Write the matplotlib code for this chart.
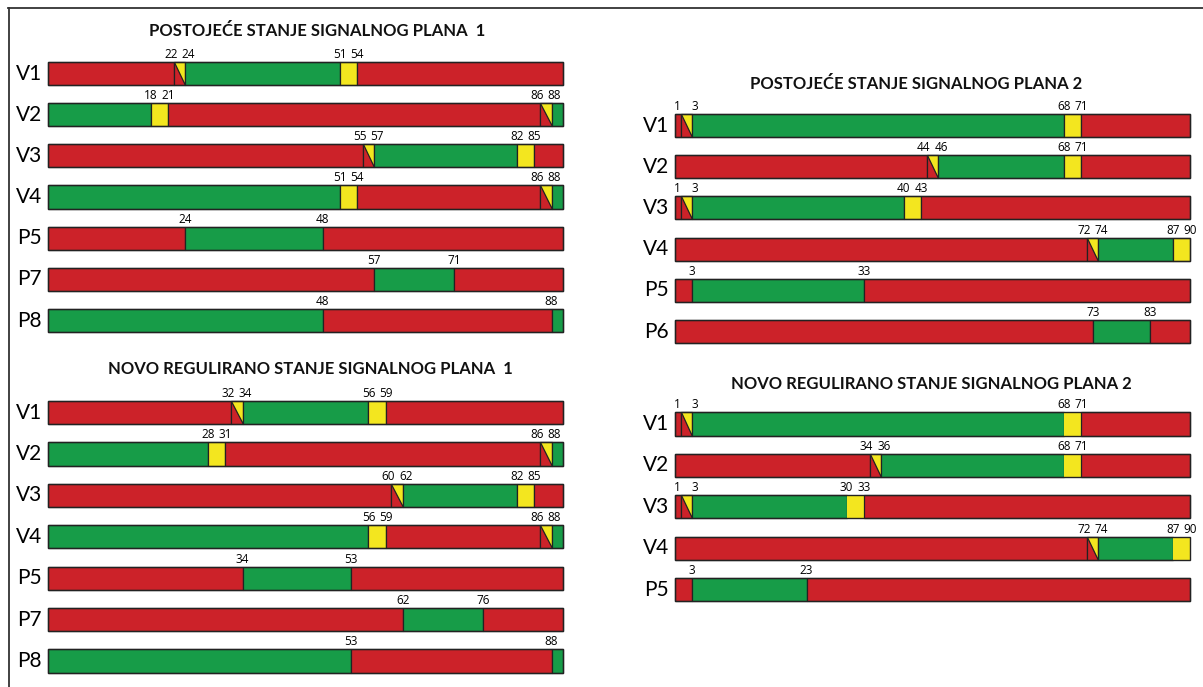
import matplotlib.pyplot as plt
from matplotlib.patches import Polygon
from matplotlib.lines import Line2D

W, H = 1203, 687
CYCLE = 90
RED, GREEN, YELLOW = '#cc2229', '#179c48', '#f3e61f'
COLORS = {'R': RED, 'G': GREEN, 'Y': YELLOW}

# Postojece stanje signalnog plana 1
old1_names = ['V1', 'V2', 'V3', 'V4', 'P5', 'P7', 'P8']
old1_times = [[0, 22, 24, 51, 54], [0, 18, 21, 86, 88], [0, 55, 57, 82, 85],
              [0, 51, 54, 86, 88], [0, 24, 48], [0, 57, 71], [0, 48, 88]]
old1_states = [['R', 'RY', 'G', 'Y', 'R'], ['G', 'Y', 'R', 'RY', 'G'], ['R', 'RY', 'G', 'Y', 'R'],
               ['G', 'Y', 'R', 'RY', 'G'], ['R', 'G', 'R'], ['R', 'G', 'R'], ['G', 'R', 'G']]

# Novo regulirano stanje signalnog plana 1
new1_names = ['V1', 'V2', 'V3', 'V4', 'P5', 'P7', 'P8']
new1_times = [[0, 32, 34, 56, 59], [0, 28, 31, 86, 88], [0, 60, 62, 82, 85],
              [0, 56, 59, 86, 88], [0, 34, 53], [0, 62, 76], [0, 53, 88]]
new1_states = old1_states

# Postojece stanje signalnog plana 2
old2_names = ['V1', 'V2', 'V3', 'V4', 'P5', 'P6']
old2_times = [[0, 1, 3, 68, 71], [0, 44, 46, 68, 71], [0, 1, 3, 40, 43],
              [0, 72, 74, 87], [0, 3, 33], [0, 73, 83]]
old2_states = [['R', 'RY', 'G', 'Y', 'R'], ['R', 'RY', 'G', 'Y', 'R'], ['R', 'RY', 'G', 'Y', 'R'],
               ['R', 'RY', 'G', 'Y'], ['R', 'G', 'R'], ['R', 'G', 'R']]

# Novo regulirano stanje signalnog plana 2
new2_names = ['V1', 'V2', 'V3', 'V4', 'P5']
new2_times = [[0, 1, 3, 68, 71], [0, 34, 36, 68, 71], [0, 1, 3, 30, 33],
              [0, 72, 74, 87], [0, 3, 23]]
new2_states = old2_states[:5]

FONT = ['Lato', 'DejaVu Sans']
BAR_H = 0.56


def draw_panel(fig, names, times, states, x0, x1, yc_first, yc_last, yellow_edge=True):
    n = len(names)
    step = (yc_last - yc_first) / (n - 1)
    top = yc_first - step / 2
    bot = yc_last + step / 2
    ax = fig.add_axes([x0 / W, 1 - bot / H, (x1 - x0) / W, (bot - top) / H])
    ax.set_xlim(0, CYCLE)
    ax.set_ylim(n - 0.5, -0.5)
    ax.axis('off')
    for i in range(n):
        t = times[i] + [CYCLE]
        st = states[i]
        yt, yb = i - BAR_H / 2, i + BAR_H / 2
        for k, s in enumerate(st):
            a, b = t[k], t[k + 1]
            if s == 'RY':
                ax.barh(i, b - a, left=a, height=BAR_H, color=RED, edgecolor='#222', lw=0.9,
                        clip_on=False)
                ax.add_patch(Polygon([(a, yt), (b, yt), (b, yb)], closed=True, clip_on=False,
                                     facecolor=YELLOW, edgecolor='#222', lw=0.9))
            elif s == 'Y' and not yellow_edge:
                ax.barh(i, b - a, left=a, height=BAR_H, color=YELLOW, lw=0, clip_on=False)
            else:
                ax.barh(i, b - a, left=a, height=BAR_H, color=COLORS[s], edgecolor='#222',
                        lw=0.9, clip_on=False)
        # outer frame
        ax.barh(i, CYCLE, left=0, height=BAR_H, fill=False, edgecolor='#222', lw=1.0,
                clip_on=False)
        # time labels
        marks = t[1:-1]
        if st[-1] == 'Y':
            marks = marks + [CYCLE]
        for j, m in enumerate(marks):
            dx = 0
            if j + 1 < len(marks) and marks[j + 1] - m <= 2:
                dx = -3
            elif j > 0 and m - marks[j - 1] <= 2:
                dx = 3
            ax.annotate(str(m), (m, yt), xytext=(dx, 1), textcoords='offset pixels',
                        ha='center', va='bottom', fontsize=8.5, family=['Open Sans', 'DejaVu Sans'],
                        annotation_clip=False)
        ax.annotate(names[i], (0, i), xytext=(-6, 0), textcoords='offset pixels',
                    ha='right', va='center', fontsize=15, family=FONT, annotation_clip=False)
    return ax


fig = plt.figure(figsize=(W / 100, H / 100), dpi=100)

draw_panel(fig, old1_names, old1_times, old1_states, 48, 563, 73.5, 320.5)
draw_panel(fig, new1_names, new1_times, new1_states, 48, 563, 412.5, 661)
draw_panel(fig, old2_names, old2_times, old2_states, 675, 1190, 125.5, 331.5)
draw_panel(fig, new2_names, new2_times, new2_states, 675, 1190, 424, 589.5, yellow_edge=False)

tkw = dict(ha='center', va='center', fontsize=12, fontweight='bold', family=FONT, color='#111')
fig.text(317 / W, 1 - 31 / H, 'POSTOJEĆE STANJE SIGNALNOG PLANA  1', **tkw)
fig.text(310 / W, 1 - 369 / H, 'NOVO REGULIRANO STANJE SIGNALNOG PLANA  1', **tkw)
fig.text(916 / W, 1 - 84 / H, 'POSTOJEĆE STANJE SIGNALNOG PLANA 2', **tkw)
fig.text(931 / W, 1 - 384 / H, 'NOVO REGULIRANO STANJE SIGNALNOG PLANA 2', **tkw)

# frame lines (top and left)
fig.add_artist(Line2D([8 / W, 1], [1 - 7.5 / H, 1 - 7.5 / H], color='#333', lw=1.3))
fig.add_artist(Line2D([8.5 / W, 8.5 / W], [0, 1 - 7.5 / H], color='#333', lw=1.3))

fig.savefig('out.png', dpi=100)
